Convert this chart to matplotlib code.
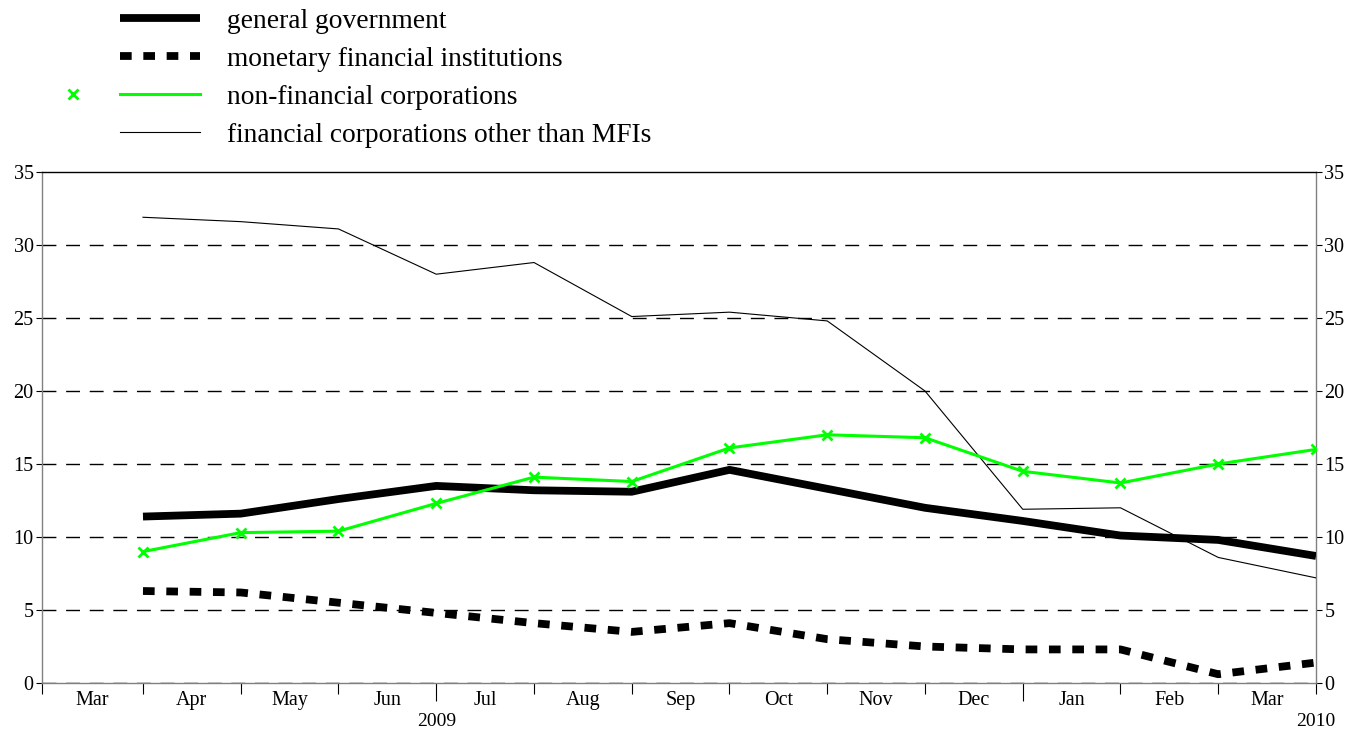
import matplotlib
matplotlib.use("Agg")
import matplotlib.pyplot as plt
from matplotlib.lines import Line2D

plt.rcParams['font.family'] = ['Liberation Serif', 'DejaVu Serif']

months = ["Mar", "Apr", "May", "Jun", "Jul", "Aug", "Sep", "Oct", "Nov", "Dec", "Jan", "Feb", "Mar"]
years = ["2009", "2010"]
year_pos = [4, 13]

# one value at the end of each month, Mar 2009 .. Mar 2010
general_gov = [11.4, 11.6, 12.6, 13.5, 13.2, 13.1, 14.6, 13.3, 12.0, 11.1, 10.1, 9.8, 8.7]
mfi = [6.3, 6.2, 5.5, 4.8, 4.1, 3.5, 4.1, 3.0, 2.5, 2.3, 2.3, 0.6, 1.4]
non_fin = [9.0, 10.3, 10.4, 12.3, 14.1, 13.8, 16.1, 17.0, 16.8, 14.5, 13.7, 15.0, 16.0]
other_fin = [31.9, 31.6, 31.1, 28.0, 28.8, 25.1, 25.4, 24.8, 20.0, 11.9, 12.0, 8.6, 7.2]

W, H = 1364, 731
fig = plt.figure(figsize=(W / 100, H / 100), dpi=100)
ax = fig.add_axes([42 / W, 1 - 683 / H, (1316 - 42) / W, (683 - 172) / H])

x = list(range(1, len(months) + 1))
x0 = -0.033

ax.plot(x, general_gov, color="black", lw=5.6, solid_capstyle="butt", zorder=3)
ax.plot(x, mfi, color="black", lw=5.6, dashes=(1.5, 1.5), dash_capstyle="butt", zorder=3)
ax.plot(x, non_fin, color="#00ff00", lw=2.2, marker="x", ms=6.5, mew=2, zorder=4)
ax.plot(x, other_fin, color="black", lw=0.8, zorder=3)

ax.set_xlim(x0, 13)
ax.set_ylim(0, 35)
ax.set_yticks(range(0, 36, 5))
for yv in range(0, 35, 5):
    ax.axhline(yv, color="black", lw=1, dashes=(10, 7), zorder=1)

ax.tick_params(axis="y", which="both", left=True, right=True, labelleft=True,
               labelright=True, direction="out", length=4, labelsize=14.5, pad=2)

bounds = [x0] + x
ax.set_xticks(bounds)
ax.set_xticklabels([])
ax.set_xticks([(a + b) / 2 for a, b in zip(bounds[:-1], bounds[1:])], minor=True)
ax.set_xticklabels(months, minor=True)
ax.tick_params(axis="x", which="major", direction="out", length=8)
ax.tick_params(axis="x", which="minor", length=0, labelsize=14.5, pad=6)
for t, b in zip(ax.xaxis.get_major_ticks(), bounds):
    if b in (4, 10):
        t.tick1line.set_markersize(13)

for yr, xp in zip(years, year_pos):
    ax.text(xp, -0.076, yr, transform=ax.get_xaxis_transform(), ha="center",
            va="center", fontsize=14)

for name, s in ax.spines.items():
    s.set_linewidth(1)
    if name != "top":
        s.set_color("#808080")

# legend, drawn above the plot
legend_rows = [
    ("general government", dict(color="black", lw=5.6, solid_capstyle="butt")),
    ("monetary financial institutions", dict(color="black", lw=5.6, dashes=(1.5, 1.5), dash_capstyle="butt")),
    ("non-financial corporations", dict(color="#00ff00", lw=2.2)),
    ("financial corporations other than MFIs", dict(color="black", lw=0.8)),
]
for i, (label, style) in enumerate(legend_rows):
    yy = 1 - (18 + 38 * i) / H
    fig.add_artist(Line2D([120 / W, 200 / W], [yy, yy], transform=fig.transFigure, **style))
    fig.text(227 / W, yy - 3 / H, label, fontsize=19.8, va="center", ha="left")
    if i == 2:
        fig.add_artist(Line2D([73 / W], [yy], transform=fig.transFigure, color="#00ff00",
                              marker="x", ms=6.5, mew=2, lw=0))

fig.savefig("out.png", dpi=100)
